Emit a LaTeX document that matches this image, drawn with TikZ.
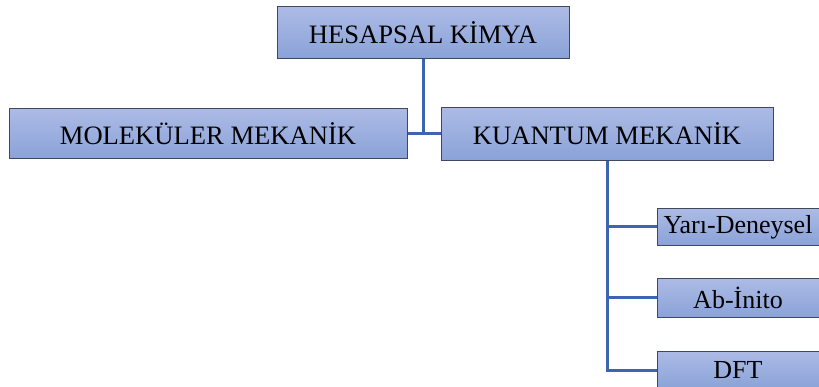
\documentclass[tikz,border=0pt]{standalone}
\usepackage{fontspec}
\setmainfont{Liberation Serif}
\definecolor{boxtop}{RGB}{172,187,229}
\definecolor{boxbot}{RGB}{138,162,216}
\definecolor{boxline}{RGB}{64,72,92}
\definecolor{conn}{RGB}{60,100,176}
\begin{document}
\begin{tikzpicture}[x=1pt,y=-1pt,
  box/.style={draw=boxline, line width=1pt, top color=boxtop, bottom color=boxbot, inner sep=0pt, text=black},
  bigbox/.style={box, font=\fontsize{26.6}{30}\selectfont},
  smallbox/.style={box, font=\fontsize{26}{30}\selectfont, minimum width=162pt, minimum height=37pt},
  link/.style={draw=conn, line width=3pt}]
\useasboundingbox (0,0) rectangle (819,387);
\clip (0,0) rectangle (819,387);
\node[bigbox, minimum width=292pt, minimum height=52pt] (top) at (423,33) {HESAPSAL KİMYA};
\node[bigbox, minimum width=398pt, minimum height=50pt] (mol) at (208,134) {MOLEKÜLER MEKANİK};
\node[bigbox, minimum width=332pt, minimum height=53pt] (kua) at (607,134) {KUANTUM MEKANİK};
\node[smallbox] (yar) at (738,227) {Yarı-Deneysel};
\node[smallbox, minimum height=38pt] (abi) at (738,298) {Ab-İnito};
\node[smallbox, minimum height=38pt] (dft) at (738,370) {DFT};
\coordinate (j1) at (top.south |- mol.east);
\coordinate (j2) at (kua.south |- dft.west);
\draw[link] (mol.east) -- (kua.west);
\draw[link] (top.south) -- (j1);
\draw[link] (kua.south) -- (j2) -- (dft.west);
\draw[link] (kua.south |- yar.west) -- (yar.west);
\draw[link] (kua.south |- abi.west) -- (abi.west);
\end{tikzpicture}
\end{document}
